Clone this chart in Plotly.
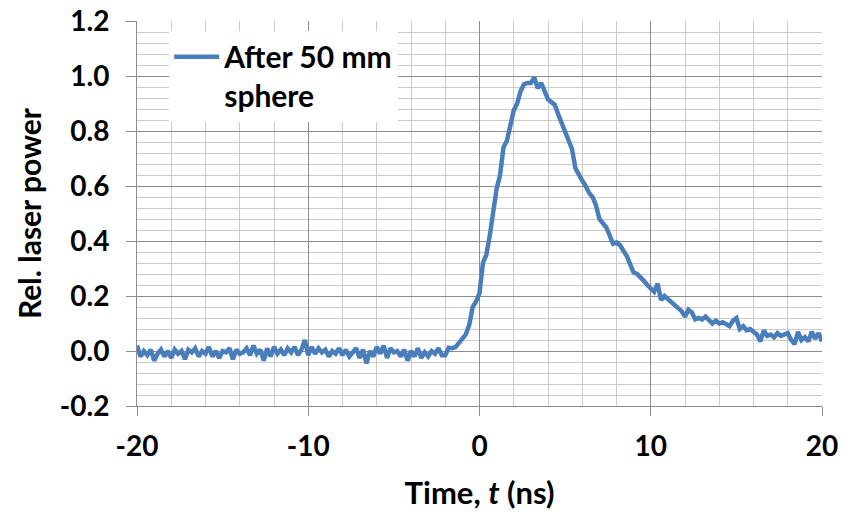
import numpy as np
import plotly.graph_objects as go

# baseline before the pulse, sampled every 0.2 ns from -20.0 to -2.2 ns
base_t0 = -20.0
base_power = [
    0.02, -0.02, 0.0, -0.015, 0.005, -0.035, -0.01, 0.005, -0.02, 0.0,
    -0.025, 0.005, -0.01, 0.0, -0.03, 0.005, -0.005, 0.01, -0.02, 0.0,
    -0.01, 0.015, -0.02, 0.0, -0.025, 0.0, -0.005, 0.01, -0.03, 0.005,
    -0.01, -0.005, 0.01, -0.015, 0.02, -0.01, 0.005, -0.035, 0.01, -0.02,
    0.015, -0.01, 0.005, -0.015, 0.01, -0.005, 0.015, -0.015, 0.005, 0.04,
    -0.015, 0.015, -0.01, 0.01, -0.005, 0.005, -0.02, 0.0, -0.01, 0.01,
    -0.015, 0.005, -0.02, -0.005, 0.01, -0.025, 0.005, -0.045, 0.0, -0.02,
    0.015, -0.01, 0.02, -0.025, 0.01, -0.005, 0.0, -0.02, 0.005, -0.035,
    0.0, -0.02, 0.01, -0.025, -0.005, -0.02, 0.0, -0.01, 0.01, -0.015,
]

# pulse and tail, sampled every 0.2 ns from -2.0 to 20.0 ns
pulse_t0 = -2.0
pulse_power = [
    -0.015, 0.012, 0.01, 0.014, 0.03, 0.045, 0.06, 0.095, 0.16, 0.18,
    0.21, 0.32, 0.35, 0.42, 0.50, 0.59, 0.64, 0.74, 0.765, 0.825,
    0.875, 0.90, 0.945, 0.97, 0.975, 0.975, 0.995, 0.955, 0.975, 0.945,
    0.915, 0.905, 0.895, 0.86, 0.83, 0.79, 0.76, 0.735, 0.665, 0.64,
    0.62, 0.60, 0.575, 0.56, 0.53, 0.48, 0.465, 0.45, 0.42, 0.39,
    0.395, 0.385, 0.365, 0.345, 0.315, 0.285, 0.28, 0.27, 0.255, 0.24,
    0.225, 0.215, 0.245, 0.185, 0.20, 0.19, 0.18, 0.17, 0.16, 0.145,
    0.125, 0.15, 0.14, 0.115, 0.12, 0.115, 0.125, 0.11, 0.10, 0.11,
    0.10, 0.105, 0.095, 0.09, 0.11, 0.12, 0.08, 0.09, 0.075, 0.08,
    0.07, 0.06, 0.035, 0.075, 0.055, 0.06, 0.05, 0.065, 0.055, 0.06,
    0.065, 0.04, 0.025, 0.07, 0.04, 0.05, 0.035, 0.07, 0.045, 0.065,
    0.035,
]
dt = 0.2

x_ticks = [-20, -10, 0, 10, 20]
x_labels = ['-20', '-10', '0', '10', '20']
y_ticks = [-0.2, 0.0, 0.2, 0.4, 0.6, 0.8, 1.0, 1.2]
y_labels = ['-0.2', '0.0', '0.2', '0.4', '0.6', '0.8', '1.0', '1.2']

t_base = base_t0 + dt * np.arange(len(base_power))
t_pulse = pulse_t0 + dt * np.arange(len(pulse_power))
t = np.concatenate([t_base, t_pulse])
power = np.array(base_power + pulse_power)

font = 'Lato'
major = '#8c8c8c'
minor = '#cbcbcb'

fig = go.Figure()
fig.add_trace(go.Scatter(
    x=t, y=power, mode='lines', name='After 50 mm<br>sphere',
    line=dict(color='#4a7ebb', width=4.5)))

fig.update_layout(
    width=841, height=512,
    margin=dict(l=137, r=19, t=21, b=106),
    paper_bgcolor='white', plot_bgcolor='white',
    font=dict(family=font, size=28, color='black'),
    showlegend=True,
    legend=dict(x=0.047, y=0.975, xanchor='left', yanchor='top',
                bgcolor='white', borderwidth=0, valign='top',
                itemwidth=45,
                font=dict(family=font, size=30, weight='bold'),
                tracegroupgap=0),
    xaxis=dict(
        range=[-20, 20], tickvals=x_ticks, ticktext=x_labels,
        showgrid=True, gridcolor=major, gridwidth=1,
        minor=dict(dtick=2, tick0=0, showgrid=True, gridcolor=minor,
                   gridwidth=1),
        showline=True, linecolor=major, linewidth=1,
        ticks='outside', ticklen=9, tickcolor=major,
        ticklabelstandoff=6, ticklabeloverflow='allow',
        zeroline=False, automargin=False,
        tickfont=dict(family=font, size=28, weight='bold'),
        title=dict(text='Time, <i>t</i> (ns)', standoff=21,
                   font=dict(family=font, size=31, weight='bold')),
    ),
    yaxis=dict(
        range=[-0.2, 1.2], tickvals=y_ticks, ticktext=y_labels,
        showgrid=True, gridcolor=major, gridwidth=1,
        minor=dict(dtick=0.04, tick0=0, showgrid=True, gridcolor=minor,
                   gridwidth=1),
        showline=True, linecolor=major, linewidth=1,
        ticks='outside', ticklen=10, tickcolor=major,
        ticklabelstandoff=11, ticklabeloverflow='allow',
        zeroline=False, automargin=False,
        tickfont=dict(family=font, size=28, weight='bold'),
        title=dict(text='Rel. laser power', standoff=9,
                   font=dict(family=font, size=30, weight='bold')),
    ),
)

# drop the default page margin so the figure sits at the window corner
fig.write_html(
    'out.html',
    config=dict(displayModeBar=False),
    post_script="document.body.style.margin='0';"
                "document.body.style.overflow='hidden';")
